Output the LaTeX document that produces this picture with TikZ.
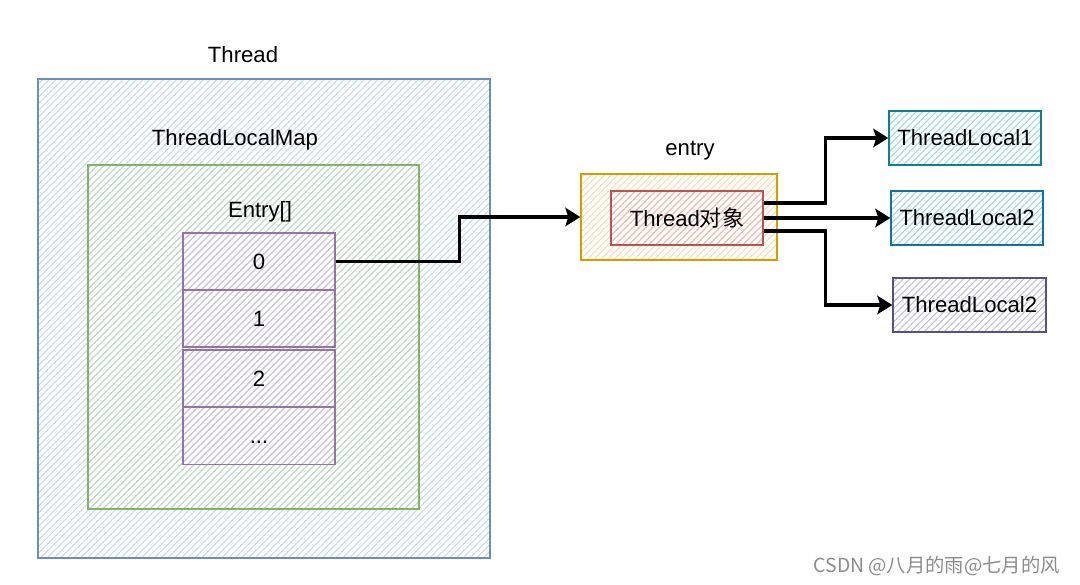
\documentclass[tikz,border=0pt]{standalone}
\usepackage{fontspec}
\setmainfont{Liberation Sans}
\newfontfamily\cjk{Noto Sans CJK SC}
\usetikzlibrary{patterns.meta,arrows.meta}
\definecolor{threadline}{HTML}{6C8EBF}
\definecolor{threadfill}{HTML}{C4D9F3}
\definecolor{mapline}{HTML}{82B366}
\definecolor{mapfill}{HTML}{C0DEBD}
\definecolor{cellline}{HTML}{9673A6}
\definecolor{cellfill}{HTML}{D5C3DF}
\definecolor{entryline}{HTML}{D79B00}
\definecolor{entryfill}{HTML}{FFD9B0}
\definecolor{objline}{HTML}{B85450}
\definecolor{objfill}{HTML}{F3B7B4}
\definecolor{tlaline}{HTML}{0E8088}
\definecolor{tlafill}{HTML}{9CDADE}
\definecolor{tlbline}{HTML}{10739E}
\definecolor{tlbfill}{HTML}{9DD3EA}
\definecolor{tlcline}{HTML}{56517E}
\definecolor{tlcfill}{HTML}{C1BEDA}
\tikzset{
  txt/.style={font=\fontsize{12.6}{15}\selectfont},
  hatch/.style={pattern={Lines[angle=45,distance=2.7pt,line width=0.6pt]}, pattern color=#1},
  box/.style={draw, line width=0.8pt, inner sep=0pt, txt, minimum width=3.04cm, minimum height=1.08cm},
  cellbox/.style={box, draw=cellline, hatch=cellfill, minimum height=1.14cm, text height=9pt, text depth=0pt},
  link/.style={-{Stealth[length=0.3cm,width=0.37cm,inset=0.06cm]}, line width=1.8pt}
}
\begin{document}
\begin{tikzpicture}[x=0.02cm,y=-0.02cm]
  \useasboundingbox (0,0) rectangle (1080,585);
  \node[box, draw=threadline, hatch=threadfill, minimum width=9.04cm, minimum height=9.58cm] (thread) at (264,318.5) {};
  \node[box, draw=mapline, hatch=mapfill, minimum width=6.62cm, minimum height=6.88cm] (map) at (253.5,337) {};
  \node[txt] (threadlbl) at (243,55) {Thread};
  \node[txt] (maplbl) at (235,140) {ThreadLocalMap};
  \node[txt] (arraylbl) at (260,212) {Entry[]};
  \node[cellbox] (c0) at (259,261.5) {0};
  \node[cellbox] (c1) at (259,318.5) {1};
  \node[cellbox] (c2) at (259,378.5) {2};
  \node[cellbox] (c3) at (259,436) {...};
  \node[txt] (entrylbl) at (690,151) {entry};
  \node[box, draw=entryline, hatch=entryfill, minimum width=3.92cm, minimum height=1.72cm] (entry) at (679,217) {};
  \node[box, draw=objline, hatch=objfill] (obj) at (687,218) {Thread{\cjk 对象}};
  \node[box, draw=tlaline, hatch=tlafill] (tl1) at (965,138) {ThreadLocal1};
  \node[box, draw=tlbline, hatch=tlbfill] (tl2) at (967,218) {ThreadLocal2};
  \node[box, draw=tlcline, hatch=tlcfill, minimum width=3.06cm] (tl3) at (969.5,305) {ThreadLocal2};
  \node[anchor=east, text=black!45, font=\cjk\fontsize{11}{13}\selectfont] (mark) at (1066,566) {CSDN @八月的雨@七月的风};
  \begin{scope}[link]
    \draw (c0.east) -- ++(124,0) |- (entry.west);
    \draw ([yshift=0.3cm]obj.east) -- ++(62,0) |- (tl1.west);
    \draw (obj.east) -- (tl2.west);
    \draw ([yshift=-0.26cm]obj.east) -- ++(62,0) |- (tl3.west);
  \end{scope}
\end{tikzpicture}
\end{document}
